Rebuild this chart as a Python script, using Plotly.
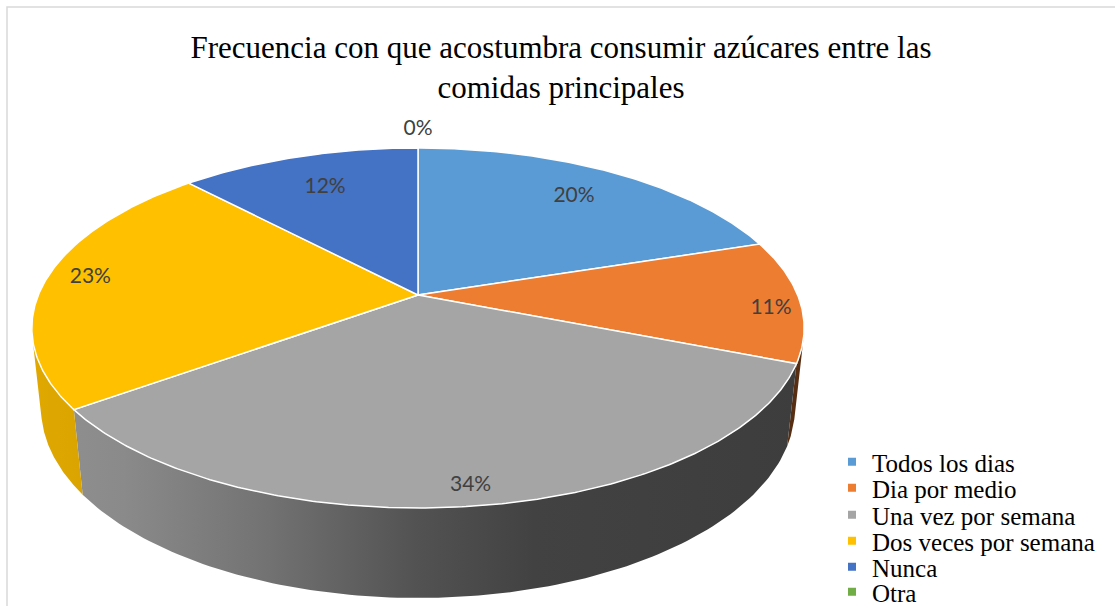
import numpy as np
import plotly.graph_objects as go

# ---------------- data ----------------
categories = ["Todos los dias", "Dia por medio", "Una vez por semana",
              "Dos veces por semana", "Nunca", "Otra"]
values = [20, 11, 34, 23, 12, 0]
colors = ["#5B9BD5", "#ED7D31", "#A5A5A5", "#FFC000", "#4472C4", "#70AD47"]
title_text = "Frecuencia con que acostumbra consumir azúcares entre las<br>comidas principales"

# ---------------- style / projection ----------------
W, H_PX = 1115, 606
VX, VY = 418.0, 295.0          # screen position of pie centre
K = 1803.0                      # focal scale
SX = 1.017                      # slight horizontal stretch
D = 4.83                        # camera distance (in radii)
ALPHA = np.deg2rad(27.78)       # elevation angle
THICK = 0.244                   # pie thickness (in radii)
label_r = [0.78, 0.92, 0.92, 0.885, 0.75, 1.15]
label_dtheta = [0.0, 3.0, 0.0, 1.2, 0.0, 0.0]
label_font = dict(family="Lato, Carlito, sans-serif", size=21, color="#404040")
serif = "Liberation Serif, Times New Roman, serif"
legend_rows_px = [462, 488, 515, 541, 567, 592]
legend_left_px = 832


def proj(theta_deg, r, z):
    t = np.deg2rad(np.asarray(theta_deg, dtype=float))
    X = r * np.sin(t)
    Y = r * np.cos(t)
    depth = Y * np.cos(ALPHA) - z * np.sin(ALPHA) + D
    up = Y * np.sin(ALPHA) + z * np.cos(ALPHA)
    return VX + SX * K * X / depth, VY - K * up / depth


def shade(hex_color, f):
    h = hex_color.lstrip("#")
    r, g, b = (int(h[i:i + 2], 16) for i in (0, 2, 4))
    return "rgb({},{},{})".format(int(r * f), int(g * f), int(b * f))


total = float(sum(values))
bounds = np.concatenate([[0.0], np.cumsum(values) / total * 360.0])

# visible range of the outer wall
vis_lim = np.rad2deg(np.arccos(-1.0 / (D * np.cos(ALPHA))))
vis_a, vis_b = vis_lim, 360.0 - vis_lim

fig = go.Figure()

# global horizontal extent for side shading
xs_all, _ = proj(np.linspace(0, 360, 721), 1.0, 0.0)
xmin, xmax = float(xs_all.min()), float(xs_all.max())
shade_stops = [(0.0, 0.88), (0.12, 0.84), (0.3, 0.70), (0.5, 0.50), (0.65, 0.40), (1.0, 0.37)]

# ---------------- side walls ----------------
for i, (a, b) in enumerate(zip(bounds[:-1], bounds[1:])):
    lo, hi = max(a, vis_a), min(b, vis_b)
    if hi <= lo:
        continue
    th = np.linspace(lo, hi, 120)
    xt, yt = proj(th, 1.0, 0.0)
    xb, yb = proj(th[::-1], 1.0, -THICK)
    xs = np.concatenate([xt, xb, xt[:1]])
    ys = np.concatenate([yt, yb, yt[:1]])
    fig.add_trace(go.Scatter(
        x=xs, y=ys, mode="lines", fill="toself",
        line=dict(width=0, color=colors[i]),
        fillcolor=shade(colors[i], 0.6),
        fillgradient=dict(type="horizontal", start=xmin, stop=xmax,
                          colorscale=[[p, shade(colors[i], f)] for p, f in shade_stops]),
        hoverinfo="skip", showlegend=False))

# ---------------- top faces ----------------
for i, (a, b) in enumerate(zip(bounds[:-1], bounds[1:])):
    if b - a <= 0:
        continue
    th = np.linspace(a, b, max(int((b - a) * 2), 4))
    xt, yt = proj(th, 1.0, 0.0)
    xs = np.concatenate([[VX], xt, [VX]])
    ys = np.concatenate([[VY], yt, [VY]])
    fig.add_trace(go.Scatter(
        x=xs, y=ys, mode="lines", fill="toself",
        line=dict(width=1.5, color="white"),
        fillcolor=colors[i], hoveron="fills",
        name=categories[i], text=categories[i], hoverinfo="text",
        showlegend=False))

# ---------------- percentage labels ----------------
mids = (bounds[:-1] + bounds[1:]) / 2.0
lx, ly = [], []
for m, r, dt in zip(mids, label_r, label_dtheta):
    x, y = proj(m + dt, r, 0.0)
    lx.append(float(x))
    ly.append(float(y))
pct_text = ["{:.0f}%".format(v / total * 100) for v in values]
fig.add_trace(go.Scatter(x=lx, y=ly, mode="text", text=pct_text,
                         textfont=label_font, hoverinfo="skip", showlegend=False))

# ---------------- legend entries (one legend per row for exact spacing) ----------------
legend_layouts = {}
for k, (c, name) in enumerate(zip(colors, categories)):
    lid = "legend" if k == 0 else "legend{}".format(k + 1)
    fig.add_trace(go.Scatter(x=[None], y=[None], mode="markers", name=name,
                             marker=dict(symbol="square", size=8, color=c),
                             showlegend=True, legend=lid))
    legend_layouts[lid] = dict(
        x=legend_left_px / W, y=1 - legend_rows_px[k] / H_PX,
        xanchor="left", yanchor="middle",
        font=dict(family=serif, size=25, color="#000000"),
        bgcolor="rgba(0,0,0,0)", borderwidth=0, itemwidth=30)

fig.update_layout(
    width=W, height=H_PX,
    margin=dict(l=0, r=0, t=0, b=0, autoexpand=False),
    paper_bgcolor="white", plot_bgcolor="white",
    xaxis=dict(range=[0, W], visible=False, fixedrange=True),
    yaxis=dict(range=[H_PX, 0], visible=False, fixedrange=True),
    title=dict(text=title_text, x=561 / W, xanchor="center",
               y=1 - 58 / H_PX, yanchor="middle", yref="container",
               font=dict(family=serif, size=31, color="#000000")),
    shapes=[dict(type="rect", xref="x", yref="y", x0=7, y0=7, x1=1125, y1=620,
                 line=dict(color="#d9d9d9", width=1.5), layer="below")],
    **legend_layouts,
)

fig.write_html("out.html", include_plotlyjs=True,
               config={"displayModeBar": False},
               post_script="document.body.style.margin='0';document.body.style.overflow='hidden';")
